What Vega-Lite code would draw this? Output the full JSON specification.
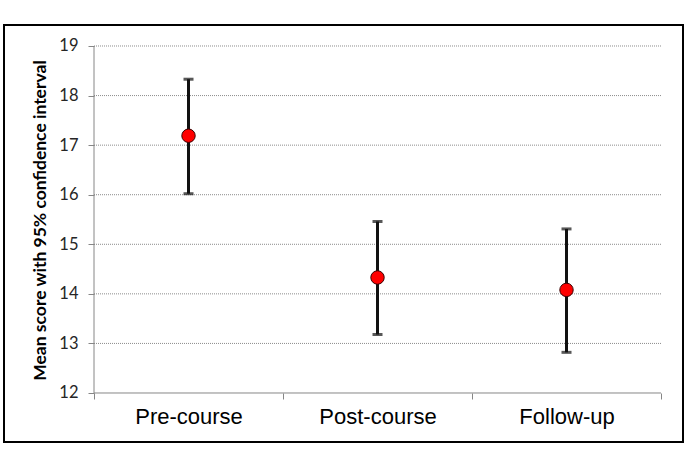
{
  "$schema": "https://vega.github.io/schema/vega-lite/v6.json",
  "autosize": {"type": "none"},
  "padding": {"left": 4, "top": 25, "right": 10, "bottom": 8},
  "width": 679,
  "height": 417,
  "background": "#ffffff",
  "config": {
    "view": {"stroke": "#000000", "strokeWidth": 2}
  },
  "datasets": {
    "scores": [
      {"phase": "Pre-course", "mean": 17.19, "lower": 16.02, "upper": 18.33},
      {"phase": "Post-course", "mean": 14.33, "lower": 13.18, "upper": 15.46},
      {"phase": "Follow-up", "mean": 14.08, "lower": 12.82, "upper": 15.31}
    ],
    "gridlines": [
      {"value": 13}, {"value": 14}, {"value": 15}, {"value": 16},
      {"value": 17}, {"value": 18}, {"value": 19}
    ],
    "baseline": [{"value": 12}]
  },
  "layer": [
    {
      "data": {"name": "gridlines"},
      "mark": {"type": "rule", "color": "#8c8c8c", "strokeWidth": 1, "strokeDash": [1, 1]},
      "encoding": {
        "x": {
          "datum": "Pre-course",
          "bandPosition": 0,
          "type": "nominal",
          "scale": {
            "domain": ["Pre-course", "Post-course", "Follow-up"],
            "paddingInner": 0,
            "paddingOuter": 0.2963,
            "align": 0.8036
          },
          "axis": {
            "title": null,
            "offset": -49,
            "domain": false,
            "tickBand": "extent",
            "tickSize": 6,
            "tickColor": "#868686",
            "labelAngle": 0,
            "labelFont": "Liberation Sans",
            "labelFontSize": 22,
            "labelColor": "#000000",
            "labelPadding": 7
          }
        },
        "x2": {"datum": "Follow-up", "bandPosition": 1},
        "y": {
          "field": "value",
          "type": "quantitative",
          "scale": {"domain": [11.0115, 19.4236], "nice": false, "zero": false},
          "axis": {
            "title": "Mean score with 95% confidence interval",
            "values": [12, 13, 14, 15, 16, 17, 18, 19],
            "offset": -90,
            "domain": false,
            "grid": false,
            "tickSize": 6,
            "tickColor": "#868686",
            "labelFont": "Lato",
            "labelFontSize": 16.5,
            "labelColor": "#262626",
            "labelPadding": 10,
            "titleFont": "Lato",
            "titleFontSize": 17.5,
            "titleFontWeight": "bold",
            "titleColor": "#000000",
            "titleAngle": -90,
            "titleBaseline": "middle",
            "titleX": -54,
            "titleY": 195
          }
        }
      }
    },
    {
      "data": {"name": "baseline"},
      "mark": {"type": "rule", "color": "#868686", "strokeWidth": 1},
      "encoding": {
        "x": {"datum": "Pre-course", "bandPosition": 0, "type": "nominal"},
        "x2": {"datum": "Follow-up", "bandPosition": 1},
        "y": {"field": "value", "type": "quantitative"}
      }
    },
    {
      "data": {"values": [{"low": 12, "high": 19}]},
      "mark": {"type": "rule", "color": "#868686", "strokeWidth": 1},
      "encoding": {
        "x": {"datum": "Pre-course", "bandPosition": 0, "type": "nominal"},
        "y": {"field": "low", "type": "quantitative"},
        "y2": {"field": "high"}
      }
    },
    {
      "data": {"name": "scores"},
      "mark": {"type": "rule", "color": "#111111", "strokeWidth": 3},
      "encoding": {
        "x": {"field": "phase", "type": "nominal"},
        "y": {"field": "lower", "type": "quantitative"},
        "y2": {"field": "upper"}
      }
    },
    {
      "data": {"name": "scores"},
      "mark": {"type": "tick", "color": "#111111", "thickness": 3, "size": 10, "orient": "horizontal"},
      "encoding": {
        "x": {"field": "phase", "type": "nominal"},
        "y": {"field": "lower", "type": "quantitative"}
      }
    },
    {
      "data": {"name": "scores"},
      "mark": {"type": "tick", "color": "#111111", "thickness": 3, "size": 10, "orient": "horizontal"},
      "encoding": {
        "x": {"field": "phase", "type": "nominal"},
        "y": {"field": "upper", "type": "quantitative"}
      }
    },
    {
      "data": {"name": "scores"},
      "mark": {"type": "point", "shape": "circle", "filled": true, "fill": "#ff0000", "stroke": "#3a0000", "strokeWidth": 1, "size": 180, "opacity": 1},
      "encoding": {
        "x": {"field": "phase", "type": "nominal"},
        "y": {"field": "mean", "type": "quantitative"}
      }
    }
  ]
}
